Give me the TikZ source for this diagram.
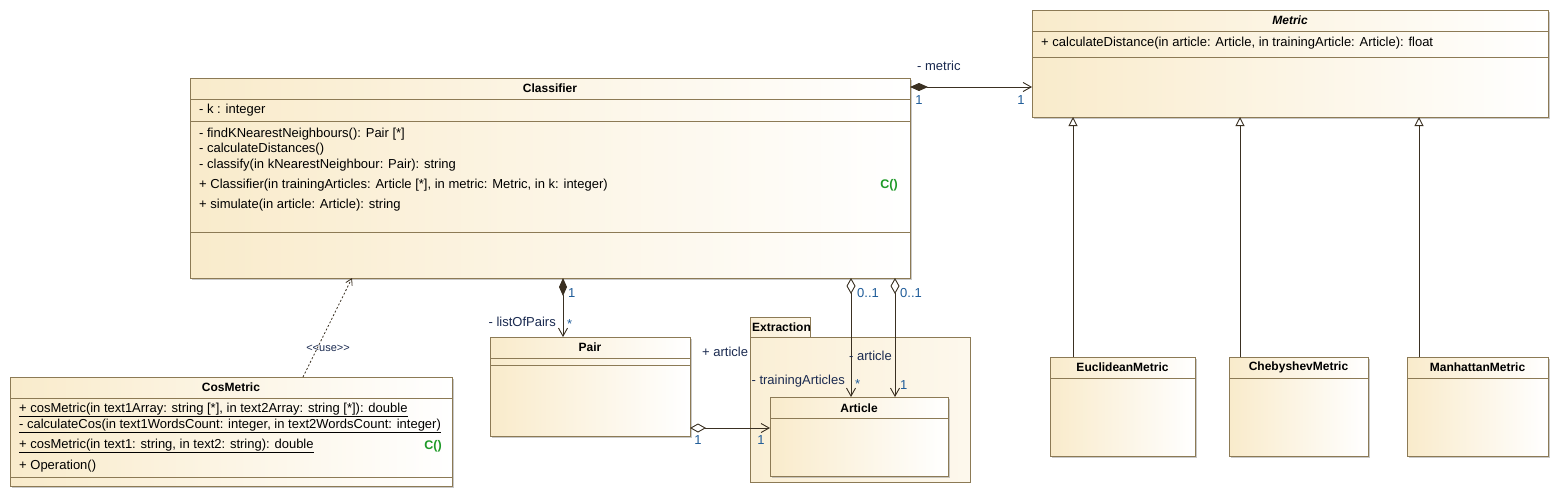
\documentclass[tikz,border=0pt]{standalone}
\usepackage{fontspec}
\setmainfont{Liberation Sans}
\usetikzlibrary{arrows.meta,shadows}
\definecolor{bord}{HTML}{8C7A55}
\definecolor{creamL}{HTML}{F9EBCB}
\definecolor{lnk}{HTML}{3A3022}
\definecolor{rolec}{HTML}{1A2A50}
\definecolor{multc}{HTML}{1F5C99}
\definecolor{ctor}{HTML}{1E9A28}
\tikzset{
  umlbox/.style={draw=bord, line width=0.9pt, left color=creamL, right color=white,
    anchor=north west, inner sep=0pt, outer sep=0pt,
    drop shadow={shadow xshift=1.5pt, shadow yshift=-1.5pt, fill=black!35, opacity=0.6}},
  pkgbox/.style={draw=bord, line width=0.9pt, left color=creamL!80!white, right color=creamL!35!white,
    anchor=north west, inner sep=0pt, outer sep=0pt},
  txt/.style={anchor=west, inner sep=0pt, font=\fontsize{13}{15}\selectfont},
  ttl/.style={anchor=center, inner sep=0pt, font=\fontsize{12}{14}\selectfont\bfseries},
  ctorlbl/.style={anchor=center, inner sep=0pt, text=ctor, font=\fontsize{12.5}{14}\selectfont\bfseries},
  role/.style={inner sep=0pt, text=rolec, font=\fontsize{13}{15}\selectfont},
  mult/.style={inner sep=0pt, text=multc, font=\fontsize{13}{15}\selectfont},
  sepline/.style={draw=bord, line width=0.9pt},
  conn/.style={draw=lnk, line width=0.9pt},
  compo/.style={{Diamond[length=18pt,width=8pt,fill=lnk]}-{Straight Barb[length=8pt,width=9pt,line width=0.9pt]}},
  aggre/.style={{Diamond[open,length=16pt,width=9pt,fill=white]}-{Straight Barb[length=8pt,width=9pt,line width=0.9pt]}},
  genl/.style={-{Triangle[open,length=9pt,width=9pt,fill=white]}},
  depend/.style={dash pattern=on 2pt off 2pt, -{Straight Barb[length=6pt,width=7pt,line width=0.8pt]}},
}
\begin{document}
\begin{tikzpicture}[x=1pt,y=-1pt]
\useasboundingbox (0,0) rectangle (1561,498);
\fill[white] (0,0) rectangle (1561,498);

% ---------- Classifier ----------
\node[umlbox, minimum width=720pt, minimum height=200pt] (cls) at (190,78) {};
\draw[sepline] (190,99) -- (910,99);
\draw[sepline] (190,121) -- (910,121);
\draw[sepline] (190,232) -- (910,232);
\node[ttl] (clsT) at (550,88) {Classifier};
\node[txt] (clsA1) at (199,110) {- k : integer};
\node[txt] (clsO1) at (199,134) {- findKNearestNeighbours(): Pair [*]};
\node[txt] (clsO2) at (199,149) {- calculateDistances()};
\node[txt] (clsO3) at (199,165) {- classify(in kNearestNeighbour: Pair): string};
\node[txt] (clsO4) at (199,185) {+ Classifier(in trainingArticles: Article [*], in metric: Metric, in k: integer)};
\node[ctorlbl] (clsC) at (889,185) {C()};
\node[txt] (clsO5) at (199,205) {+ simulate(in article: Article): string};

% ---------- Metric ----------
\node[umlbox, minimum width=516pt, minimum height=107pt] (met) at (1032,10) {};
\draw[sepline] (1032,31) -- (1548,31);
\draw[sepline] (1032,57) -- (1548,57);
\node[ttl, font=\fontsize{12}{14}\selectfont\bfseries\itshape] (metT) at (1290,20) {Metric};
\node[txt] (metO1) at (1041,43) {+ calculateDistance(in article: Article, in trainingArticle: Article): float};

% ---------- Subclasses ----------
\node[umlbox, minimum width=145pt, minimum height=99pt] (euc) at (1050,357) {};
\draw[sepline] (1050,378) -- (1195,378);
\node[ttl] (eucT) at (1122.5,367) {EuclideanMetric};
\node[umlbox, minimum width=139pt, minimum height=99pt] (che) at (1229,357) {};
\draw[sepline] (1229,378) -- (1368,378);
\node[ttl] (cheT) at (1298.5,367) {ChebyshevMetric};
\node[umlbox, minimum width=141pt, minimum height=99pt] (man) at (1407,357) {};
\draw[sepline] (1407,378) -- (1548,378);
\node[ttl] (manT) at (1477.5,367) {ManhattanMetric};

% ---------- CosMetric ----------
\node[umlbox, minimum width=442pt, minimum height=109pt] (cos) at (10,377) {};
\draw[sepline] (10,398) -- (452,398);
\draw[sepline] (10,477) -- (452,477);
\node[ttl] (cosT) at (231,387) {CosMetric};
\node[txt] (cosO1) at (19,410) {\underline{+ cosMetric(in text1Array: string [*], in text2Array: string [*]): double}};
\node[txt] (cosO2) at (19,426) {\underline{- calculateCos(in text1WordsCount: integer, in text2WordsCount: integer)}};
\node[txt] (cosO3) at (19,446) {\underline{+ cosMetric(in text1: string, in text2: string): double}};
\node[ctorlbl] (cosC) at (433,446) {C()};
\node[txt] (cosO4) at (19,466) {+ Operation()};

% ---------- Pair ----------
\node[umlbox, minimum width=200pt, minimum height=99pt] (pair) at (490,337) {};
\draw[sepline] (490,358) -- (690,358);
\draw[sepline] (490,365) -- (690,365);
\node[ttl] (pairT) at (590,347) {Pair};

% ---------- Extraction package ----------
\node[pkgbox, minimum width=60pt, minimum height=20pt] (pkgTab) at (750,317) {};
\node[pkgbox, minimum width=220pt, minimum height=145pt] (pkg) at (750,337) {};
\node[ttl, anchor=west] (pkgT) at (752,327) {Extraction};

% ---------- Article ----------
\node[umlbox, minimum width=178pt, minimum height=79pt] (art) at (770,397) {};
\draw[sepline] (770,418) -- (948,418);
\node[ttl] (artT) at (859,408) {Article};

% ---------- Connectors ----------
% Classifier -> Metric (composition)
\draw[conn, compo] (cls.north east |- 0,87) -- (met.west |- 0,87);
\node[role, anchor=west] (lMetric) at (917,66) {- metric};
\node[mult] (m1a) at (919,100) {1};
\node[mult] (m1b) at (1021,100) {1};

% Generalizations
\draw[conn, genl] (euc.north -| 1073,0) -- (met.south -| 1073,0);
\draw[conn, genl] (che.north -| 1240,0) -- (met.south -| 1240,0);
\draw[conn, genl] (man.north -| 1419,0) -- (met.south -| 1419,0);

% Classifier -> Pair (composition)
\draw[conn, compo] (cls.south -| 563,0) -- (pair.north -| 563,0);
\node[mult, anchor=west] (m2a) at (568,293) {1};
\node[role, anchor=east] (lPairs) at (556,322) {- listOfPairs};
\node[mult, anchor=west] (m2b) at (567,324) {*};

% Classifier -> Article (aggregations)
\draw[conn, aggre] (cls.south -| 851,0) -- (art.north -| 851,0);
\draw[conn, aggre] (cls.south -| 895,0) -- (art.north -| 895,0);
\node[mult, anchor=west] (m3a) at (857,293) {0..1};
\node[mult, anchor=west] (m3b) at (900,293) {0..1};
\node[role, anchor=west] (lArt) at (849,356) {- article};
\node[role, anchor=east] (lTrain) at (845,381) {- trainingArticles};
\node[mult, anchor=west] (m3c) at (855,384) {*};
\node[mult, anchor=west] (m3d) at (900,385) {1};

% Pair -> Article (aggregation)
\draw[conn, aggre] (pair.east |- 0,428) -- (art.west |- 0,428);
\node[mult] (m4a) at (698,440) {1};
\node[mult] (m4b) at (761,440) {1};
\node[role, anchor=west] (lPairArt) at (702,352) {+ article};

% CosMetric -> Classifier (use dependency)
\draw[conn, line width=0.8pt, depend] (cos.north -| 303,0) -- (cls.south -| 352,0);
\node[role, font=\fontsize{11}{13}\selectfont] (lUse) at (328,348) {<\kern0pt<use>\kern0pt>};
\end{tikzpicture}
\end{document}
